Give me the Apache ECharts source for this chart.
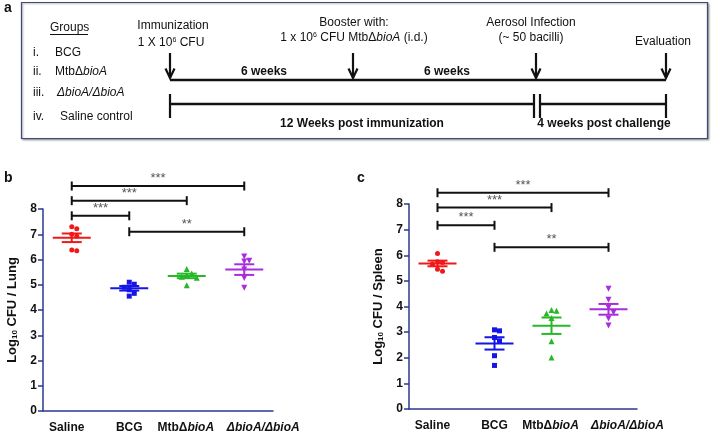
<!DOCTYPE html>
<html>
<head>
<meta charset="utf-8">
<script src="https://cdn.jsdelivr.net/npm/echarts@6/dist/echarts.min.js"></script>
<style>html,body{margin:0;padding:0;background:#fff;}#chart{width:716px;height:434px;}</style>
</head>
<body>
<div id="chart"></div>
<script>
// ---------- data ----------
const categories = ['Saline', 'BCG', 'MtbΔbioA', 'ΔbioA/ΔbioA'];
const yTicks = [0, 1, 2, 3, 4, 5, 6, 7, 8];

const lungSaline = [7.30, 7.22, 7.00, 6.92, 6.38, 6.35];
const lungBCG    = [5.10, 5.02, 4.90, 4.80, 4.66, 4.55];
const lungMtb    = [5.62, 5.45, 5.38, 5.32, 5.28, 4.98];
const lungDD     = [6.12, 5.95, 5.92, 5.60, 5.27, 4.88];
const lungMean   = [6.86, 4.86, 5.35, 5.60];
const lungSem    = [0.17, 0.09, 0.09, 0.21];

const spleenSaline = [6.07, 5.75, 5.72, 5.66, 5.45, 5.38];
const spleenBCG    = [3.09, 3.05, 2.79, 2.66, 2.08, 1.70];
const spleenMtb    = [3.86, 3.83, 3.73, 3.55, 2.64, 2.01];
const spleenDD     = [4.69, 4.26, 3.96, 3.77, 3.53, 3.26];
const spleenMean   = [5.68, 2.56, 3.25, 3.89];
const spleenSem    = [0.11, 0.24, 0.32, 0.21];

// significance brackets: [from category, to category, level]
const lungBrackets   = [[0, 3, 8.91], [0, 2, 8.33], [0, 1, 7.73], [1, 3, 7.10]];
const lungSig        = ['***', '***', '***', '**'];
const spleenBrackets = [[0, 3, 8.44], [0, 2, 7.86], [0, 1, 7.17], [1, 3, 6.31]];
const spleenSig      = ['***', '***', '***', '**'];

// panel a text
const groupNumerals = ['i.', 'ii.', 'iii.', 'iv.'];
const groupNames = ['BCG', 'MtbΔ{i|bioA}', '{i|ΔbioA/ΔbioA}', 'Saline control'];
const eventTitles = ['Immunization', 'Booster with:', 'Aerosol Infection', 'Evaluation'];
const eventSubs = ['1 X 10{sup|6} CFU', '1 x 10{sup|6} CFU MtbΔ{i|bioA} (i.d.)', '(~ 50 bacilli)', ''];
const periodTop = ['6 weeks', '6 weeks'];
const periodBottom = ['12 Weeks post immunization', '4 weeks post challenge'];

// ---------- style ----------
const FF = 'Liberation Sans, Arial, sans-serif';
const colors = ['#f01818', '#1515e8', '#27b827', '#a82ddc'];
const symbols = ['circle', 'rect', 'triangle', 'triangle'];
const symSizes = [5, 5, 6, 6];
const symRot = [0, 0, 0, 180];
const axisColor = '#2b3990';

function dodge(vals, thr, step) {
  const placed = [];
  return vals.map(v => {
    const cands = [0, step, -step, 2 * step, -2 * step];
    for (const o of cands) {
      if (!placed.some(p => Math.abs(p.v - v) < thr && Math.abs(p.o - o) < step)) {
        placed.push({ v, o });
        return o;
      }
    }
    placed.push({ v, o: 0 });
    return 0;
  });
}

function richTxt(size, weight) {
  return {
    i: { fontStyle: 'italic', fontWeight: weight, fontSize: size, fontFamily: FF, fill: '#111', color: '#111' },
    sup: { fontSize: Math.round(size * 0.62), fontWeight: weight, fontFamily: FF, verticalAlign: 'top', fill: '#111', color: '#111' },
    sub: { fontSize: Math.round(size * 0.62), fontWeight: weight, fontFamily: FF, verticalAlign: 'bottom', fill: '#111', color: '#111' }
  };
}

function T(text, x, y, o) {
  o = o || {};
  const size = o.size || 12, weight = o.weight || 'normal';
  return {
    type: 'text', x: x, y: y, z: 10,
    style: {
      text: text, fontSize: size, fontWeight: weight, fontFamily: FF, fill: o.fill || '#111',
      align: o.align || 'center', verticalAlign: 'middle',
      textAlign: o.align || 'center', textVerticalAlign: 'middle',
      rich: richTxt(size, weight)
    }
  };
}
function L(x1, y1, x2, y2, w) {
  return { type: 'line', shape: { x1, y1, x2, y2 }, style: { stroke: '#111', lineWidth: w || 2.2 }, z: 10 };
}

// ---------- panel a (diagram) ----------
const gfx = [];
gfx.push({ type: 'rect', shape: { x: 21.5, y: 2.5, width: 686, height: 136 },
  style: { fill: '#fff', stroke: '#3d4b7a', lineWidth: 1.2, shadowBlur: 2, shadowOffsetX: 1, shadowOffsetY: 1, shadowColor: 'rgba(0,0,0,0.35)' }, z: 5 });
gfx.push(T('a', 4, 8, { size: 14, weight: 'bold', align: 'left' }));
gfx.push(T('b', 4, 178, { size: 14, weight: 'bold', align: 'left' }));
gfx.push(T('c', 357, 178, { size: 14, weight: 'bold', align: 'left' }));
gfx.push(T('Groups', 50, 28, { align: 'left' }));
gfx.push(L(50, 34.5, 88, 34.5, 1));
const gy = [53, 72, 93, 117];
const gx = [55, 55, 57, 60];
groupNumerals.forEach((t, i) => gfx.push(T(t, 33, gy[i], { align: 'left' })));
groupNames.forEach((t, i) => gfx.push(T(t, gx[i], gy[i], { align: 'left' })));
const ex = [170, 353, 536, 666];
const etx = [173, 354, 531, 663];
const ety = [26, 23, 23, 42];
eventTitles.forEach((t, i) => gfx.push(T(t, etx[i], ety[i])));
eventSubs.forEach((t, i) => { if (t) gfx.push(T(t, i === 0 ? 171 : etx[i], i === 0 ? 43 : 38)); });
ex.forEach(x => {
  gfx.push(L(x, 53, x, 78, 2.2));
  gfx.push({ type: 'polyline', shape: { points: [[x - 4.5, 68.5], [x, 78], [x + 4.5, 68.5]] }, style: { stroke: '#111', lineWidth: 2.2, fill: null }, z: 10 });
});
gfx.push(L(170, 80, 666, 80, 2.5));
gfx.push(T(periodTop[0], 264, 72, { weight: 'bold' }));
gfx.push(T(periodTop[1], 447, 72, { weight: 'bold' }));
gfx.push(L(170, 104, 534, 104, 2.5));
gfx.push(L(540, 104, 666, 104, 2.5));
[170, 534, 540, 666].forEach(x => gfx.push(L(x, 94, x, 118, 2.2)));
gfx.push(T(periodBottom[0], 362, 124, { weight: 'bold' }));
gfx.push(T(periodBottom[1], 604, 124, { weight: 'bold' }));

// ---------- panels b, c ----------
const lblBase = { fontWeight: 'bold', fontSize: 12, fontFamily: FF, color: '#111' };
const catRich = {
  s: Object.assign({ padding: [0, 10, 0, 0] }, lblBase),
  n: Object.assign({}, lblBase),
  m: Object.assign({}, lblBase),
  mi: Object.assign({ fontStyle: 'italic', padding: [0, 2, 0, 0] }, lblBase),
  d: Object.assign({ fontStyle: 'italic', padding: [0, 0, 0, 38] }, lblBase)
};
function catFmt(v) {
  if (v === 'Saline') return '{s|Saline}';
  if (v === 'MtbΔbioA') return '{m|MtbΔ}{mi|bioA}';
  if (v === 'ΔbioA/ΔbioA') return '{d|ΔbioA/ΔbioA}';
  return '{n|' + v + '}';
}
function xAx(gi) {
  return {
    type: 'category', gridIndex: gi, data: categories, boundaryGap: true,
    axisLine: { lineStyle: { color: axisColor, width: 1.5 } },
    axisTick: { alignWithLabel: true, length: 5, lineStyle: { color: axisColor, width: 1.5 } },
    axisLabel: { interval: 0, formatter: catFmt, fontWeight: 'bold', fontSize: 12, fontFamily: FF, color: '#111', margin: 11, rich: catRich },
    splitLine: { show: false }
  };
}
function yAx(gi, name) {
  return {
    type: 'value', gridIndex: gi, min: yTicks[0], max: yTicks[yTicks.length - 1], interval: 1,
    axisLine: { show: true, lineStyle: { color: axisColor, width: 1.5 } },
    axisTick: { show: true, length: 5, lineStyle: { color: axisColor, width: 1.5 } },
    axisLabel: { fontWeight: 'bold', fontSize: 12, fontFamily: FF, color: '#111', margin: 6 },
    splitLine: { show: false },
    name: name, nameLocation: 'middle', nameGap: 24, nameRotate: 90,
    nameTextStyle: {
      fontWeight: 'bold', fontSize: 13, fontFamily: FF, color: '#111',
      rich: { sub: { fontSize: 8, fontWeight: 'bold', fontFamily: FF, color: '#111', verticalAlign: 'bottom' } }
    }
  };
}

function scatterSeries(gi, groups) {
  return groups.map((vals, g) => {
    const off = dodge(vals, 0.2, 5);
    return {
      type: 'scatter', xAxisIndex: gi, yAxisIndex: gi,
      symbol: symbols[g], symbolSize: symSizes[g], symbolRotate: symRot[g],
      itemStyle: { color: colors[g], opacity: 1 },
      z: 3,
      data: vals.map((v, k) => ({ value: [g, v], symbolOffset: [off[k], 0] }))
    };
  });
}
function meanSeries(gi, means, sems) {
  return {
    type: 'custom', xAxisIndex: gi, yAxisIndex: gi, z: 4,
    data: means.map((m, g) => [g, m, sems[g]]),
    renderItem: function (params, api) {
      const idx = api.value(0), m = api.value(1), s = api.value(2);
      const c = api.coord([idx, m]);
      const hi = api.coord([idx, m + s]);
      const lo = api.coord([idx, m - s]);
      const col = colors[params.dataIndex];
      const st = { stroke: col, lineWidth: 2 };
      return {
        type: 'group', children: [
          { type: 'line', shape: { x1: c[0] - 19, y1: c[1], x2: c[0] + 19, y2: c[1] }, style: st },
          { type: 'line', shape: { x1: c[0] - 10, y1: hi[1], x2: c[0] + 10, y2: hi[1] }, style: st },
          { type: 'line', shape: { x1: c[0] - 10, y1: lo[1], x2: c[0] + 10, y2: lo[1] }, style: st },
          { type: 'line', shape: { x1: c[0], y1: hi[1], x2: c[0], y2: lo[1] }, style: st }
        ]
      };
    }
  };
}
function bracketSeries(gi, br, sig) {
  return {
    type: 'custom', xAxisIndex: gi, yAxisIndex: gi, clip: false, z: 5,
    data: br,
    renderItem: function (params, api) {
      const y = api.value(2);
      const p1 = api.coord([api.value(0), y]);
      const p2 = api.coord([api.value(1), y]);
      const st = { stroke: '#111', lineWidth: 2 };
      return {
        type: 'group', children: [
          { type: 'line', shape: { x1: p1[0], y1: p1[1], x2: p2[0], y2: p2[1] }, style: st },
          { type: 'line', shape: { x1: p1[0], y1: p1[1] - 4.5, x2: p1[0], y2: p1[1] + 4.5 }, style: st },
          { type: 'line', shape: { x1: p2[0], y1: p2[1] - 4.5, x2: p2[0], y2: p2[1] + 4.5 }, style: st },
          { type: 'text', style: { text: sig[params.dataIndex], x: (p1[0] + p2[0]) / 2, y: p1[1] - 1,
            align: 'center', verticalAlign: 'bottom', fill: '#555', fontSize: 13, fontWeight: 'normal', fontFamily: FF } }
        ]
      };
    }
  };
}

const option = {
  animation: false,
  backgroundColor: '#fff',
  grid: [
    { left: 43, top: 209, width: 230, height: 202 },
    { left: 409, top: 204, width: 228, height: 205 }
  ],
  xAxis: [xAx(0), xAx(1)],
  yAxis: [yAx(0, 'Log{sub|10} CFU / Lung'), yAx(1, 'Log{sub|10} CFU / Spleen')],
  series: [].concat(
    scatterSeries(0, [lungSaline, lungBCG, lungMtb, lungDD]),
    [meanSeries(0, lungMean, lungSem), bracketSeries(0, lungBrackets, lungSig)],
    scatterSeries(1, [spleenSaline, spleenBCG, spleenMtb, spleenDD]),
    [meanSeries(1, spleenMean, spleenSem), bracketSeries(1, spleenBrackets, spleenSig)]
  ),
  graphic: gfx
};

const chart = echarts.init(document.getElementById('chart'), null, { renderer: 'canvas' });
chart.setOption(option);
</script>
</body>
</html>
